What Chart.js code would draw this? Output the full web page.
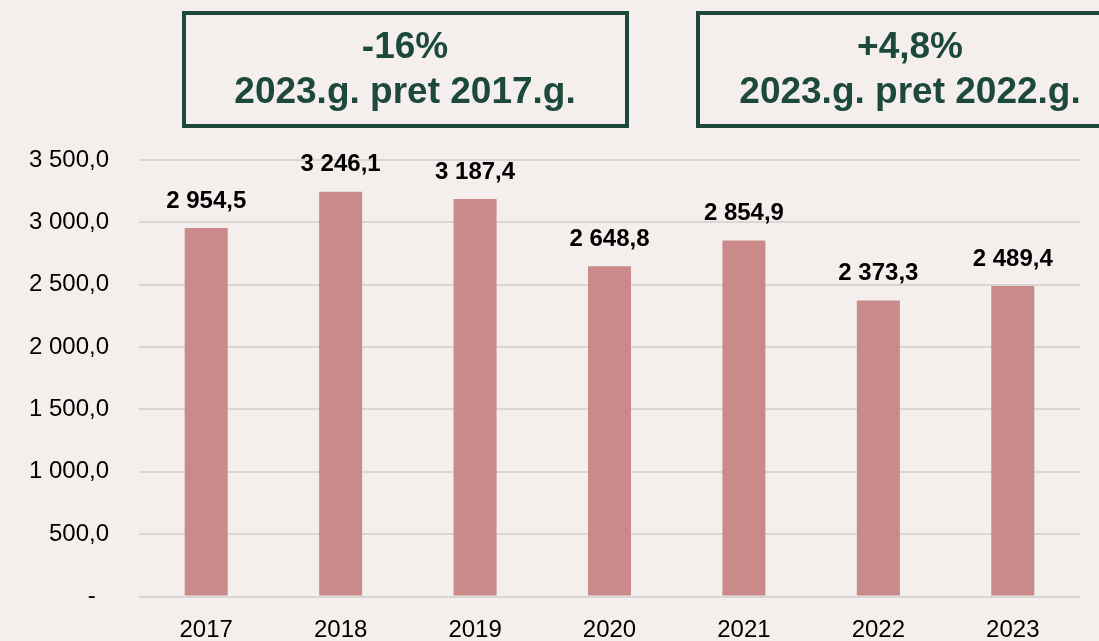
<!DOCTYPE html>
<html>
<head>
<meta charset="utf-8">
<script src="https://cdn.jsdelivr.net/npm/chart.js@4.4.1/dist/chart.umd.min.js"></script>
<style>
  html, body { margin: 0; padding: 0; background: #f4efec; }
  #wrap { width: 1099px; height: 641px; position: relative; }
</style>
</head>
<body>
<div id="wrap"><canvas id="c" width="1099" height="641"></canvas></div>
<script>
const categories = ['2017', '2018', '2019', '2020', '2021', '2022', '2023'];
const values = [2954.5, 3246.1, 3187.4, 2648.8, 2854.9, 2373.3, 2489.4];
const boxLines1 = ['-16%', '2023.g. pret 2017.g.'];
const boxLines2 = ['+4,8%', '2023.g. pret 2022.g.'];

function fmt(v, dec) {
  const s = v.toFixed(dec);
  let [i, d] = s.split('.');
  i = i.replace(/\B(?=(\d{3})+(?!\d))/g, ' ');
  return d !== undefined ? i + ',' + d : i;
}

const FONT = "'Liberation Sans', Arial, sans-serif";
const GREEN = '#1d483c';

const boxesPlugin = {
  id: 'boxes',
  afterDraw(chart) {
    const ctx = chart.ctx;
    ctx.save();
    const boxes = [
      { x: 184, y: 13, w: 443, h: 113, lines: boxLines1, cx: 405 },
      { x: 698, y: 13, w: 440, h: 113, lines: boxLines2, cx: 910 }
    ];
    boxes.forEach(b => {
      ctx.strokeStyle = GREEN;
      ctx.lineWidth = 4;
      ctx.strokeRect(b.x, b.y, b.w, b.h);
      ctx.fillStyle = GREEN;
      ctx.font = "bold 37px " + FONT;
      ctx.textAlign = 'center';
      ctx.textBaseline = 'middle';
      ctx.fillText(b.lines[0], b.cx, 48);
      ctx.fillText(b.lines[1], b.cx, 93);
    });
    ctx.restore();
  }
};

const labelPlugin = {
  id: 'valueLabels',
  afterDatasetsDraw(chart) {
    const ctx = chart.ctx;
    const meta = chart.getDatasetMeta(0);
    ctx.save();
    ctx.fillStyle = '#000';
    ctx.font = "bold 24px " + FONT;
    ctx.textAlign = 'center';
    ctx.textBaseline = 'middle';
    meta.data.forEach((bar, i) => {
      ctx.fillText(fmt(values[i], 1), bar.x, bar.y - 27);
    });
    ctx.restore();
  }
};

const bgPlugin = {
  id: 'bg',
  beforeDraw(chart) {
    const ctx = chart.ctx;
    ctx.save();
    ctx.fillStyle = '#f4efec';
    ctx.fillRect(0, 0, chart.width, chart.height);
    ctx.restore();
  }
};

new Chart(document.getElementById('c'), {
  type: 'bar',
  data: {
    labels: categories,
    datasets: [{
      data: values,
      backgroundColor: '#c98a89',
      barPercentage: 0.32,
      categoryPercentage: 1.0
    }]
  },
  options: {
    responsive: false,
    animation: false,
    layout: { padding: { top: 160, right: 19, left: 0, bottom: 0 } },
    plugins: { legend: { display: false }, tooltip: { enabled: false } },
    scales: {
      x: {
        grid: { display: false, drawTicks: false },
        border: { display: false },
        ticks: { color: '#000', font: { family: FONT, size: 24 }, padding: 19 },
        afterFit(s) { s.height = 43; }
      },
      y: {
        min: 0, max: 3500,
        grid: { color: '#d9d6d6', lineWidth: 2, drawTicks: false },
        border: { display: false },
        ticks: {
          stepSize: 500,
          color: '#000',
          font: { family: FONT, size: 24 },
          padding: 30,
          callback: v => v === 0 ? '-  ' : fmt(v, 1)
        },
        afterFit(s) { s.width = 139; }
      }
    }
  },
  plugins: [bgPlugin, labelPlugin, boxesPlugin]
});
</script>
</body>
</html>
